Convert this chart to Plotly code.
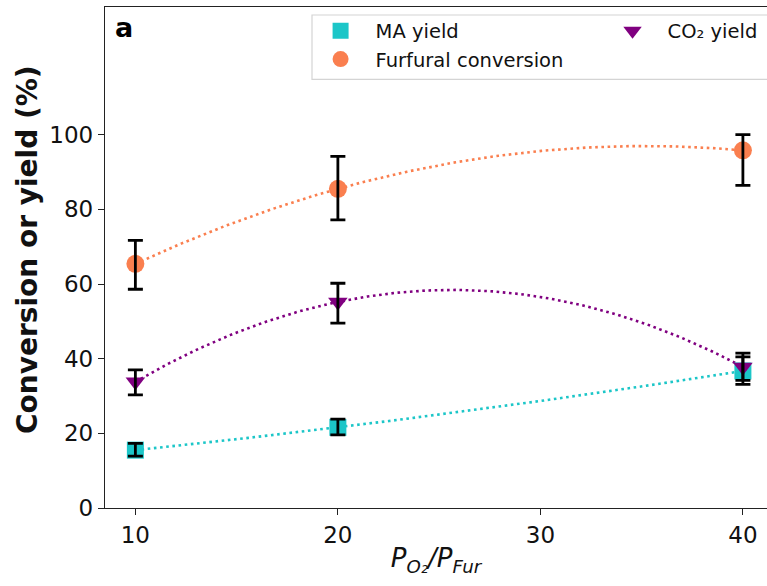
import numpy as np
import plotly.graph_objects as go

# ---- data ----
ratio = [10, 20, 40]                      # P_O2 / P_Fur
ma_yield = [15.5, 21.6, 36.7]
ma_err_plus = [1.8, 2.2, 3.8]
ma_err_minus = [1.6, 2.0, 3.6]
fur_conv = [65.4, 85.5, 95.8]
fur_err_plus = [6.3, 8.7, 4.2]
fur_err_minus = [6.8, 8.3, 9.4]
co2_yield = [33.8, 55.2, 37.8]
co2_err_plus = [3.2, 5.0, 3.7]
co2_err_minus = [3.5, 5.7, 3.6]

x_ticks = [10, 20, 30, 40]
y_ticks = [0, 20, 40, 60, 80, 100]

C_MA = "#1CC6C8"
C_FUR = "#FA7F4F"
C_CO2 = "#800080"

FONT = "DejaVu Sans"

fig = go.Figure()

# quadratic trend lines (as in the original figure), derived from the data arrays
xf = np.linspace(min(ratio), max(ratio), 200)
for ys, col in [(ma_yield, C_MA), (fur_conv, C_FUR), (co2_yield, C_CO2)]:
    coef = np.polyfit(ratio, ys, 2)
    fig.add_trace(go.Scatter(x=xf, y=np.polyval(coef, xf), mode="lines",
                             line=dict(color=col, width=2.6, dash="2.6px,3.6px"),
                             showlegend=False, hoverinfo="skip"))

# markers
fig.add_trace(go.Scatter(x=ratio, y=ma_yield, mode="markers", name="MA yield",
                         legend="legend",
                         marker=dict(symbol="square", size=17, color=C_MA)))
fig.add_trace(go.Scatter(x=ratio, y=fur_conv, mode="markers", name="Furfural conversion",
                         legend="legend",
                         marker=dict(symbol="circle", size=18, color=C_FUR)))
fig.add_trace(go.Scatter(x=ratio, y=co2_yield, mode="markers", name="CO₂ yield",
                         legend="legend2",
                         marker=dict(symbol="triangle-down", size=17, color=C_CO2)))

# error bars on top of markers
for ys, ep, em in [(ma_yield, ma_err_plus, ma_err_minus),
                   (fur_conv, fur_err_plus, fur_err_minus),
                   (co2_yield, co2_err_plus, co2_err_minus)]:
    fig.add_trace(go.Scatter(x=ratio, y=ys, mode="markers",
                             marker=dict(size=1, color="rgba(0,0,0,0)"),
                             error_y=dict(type="data", array=ep, arrayminus=em,
                                          color="black", thickness=2.8, width=7.5),
                             showlegend=False, hoverinfo="skip"))

axis_common = dict(showgrid=False, zeroline=False, showline=True, linecolor="#222",
                   linewidth=1.3, ticks="outside", ticklen=6, tickwidth=1.3,
                   tickcolor="#222", tickfont=dict(family=FONT, size=23, color="#111"))

fig.update_layout(
    width=767, height=586,
    margin=dict(l=105, r=0, t=7, b=78),
    plot_bgcolor="white", paper_bgcolor="white",
    xaxis=dict(range=[8.5, 41.19], tickvals=x_ticks, mirror=True,
               title=dict(text="<i>P</i><sub><i>O₂</i></sub><i>/P</i><sub><i>Fur</i></sub>",
                          font=dict(family=FONT, size=26, color="#111"), standoff=2),
               **axis_common),
    yaxis=dict(range=[0, 134.2], tickvals=y_ticks, **axis_common),
    legend=dict(x=0.303, y=0.991, xanchor="left", yanchor="top",
                bgcolor="rgba(0,0,0,0)", borderwidth=0, itemwidth=60,
                font=dict(family=FONT, size=19.5, color="#111")),
    legend2=dict(x=0.744, y=0.991, xanchor="left", yanchor="top",
                 bgcolor="rgba(0,0,0,0)", borderwidth=0, itemwidth=60,
                 font=dict(family=FONT, size=19.5, color="#111")),
    showlegend=True,
)

# y-axis title placed like the original
fig.add_annotation(text="<b>Conversion or yield (%)</b>", xref="paper", yref="paper",
                   x=-0.1163, y=0.515, xanchor="center", yanchor="middle",
                   textangle=-90, showarrow=False,
                   font=dict(family=FONT, size=28, color="#111"))

# legend frame (matplotlib-style box)
fig.add_shape(type="rect", xref="paper", yref="paper",
              x0=0.3127, x1=1.03, y0=0.8557, y1=0.984,
              line=dict(color="#d4d4d4", width=1.2), fillcolor="rgba(255,255,255,0.8)",
              layer="above")

fig.add_annotation(text="<b>a</b>", xref="paper", yref="paper", x=0.012, y=0.995,
                   xanchor="left", yanchor="top", showarrow=False,
                   font=dict(family=FONT, size=27, color="black"))

fig.write_html("out.html")
